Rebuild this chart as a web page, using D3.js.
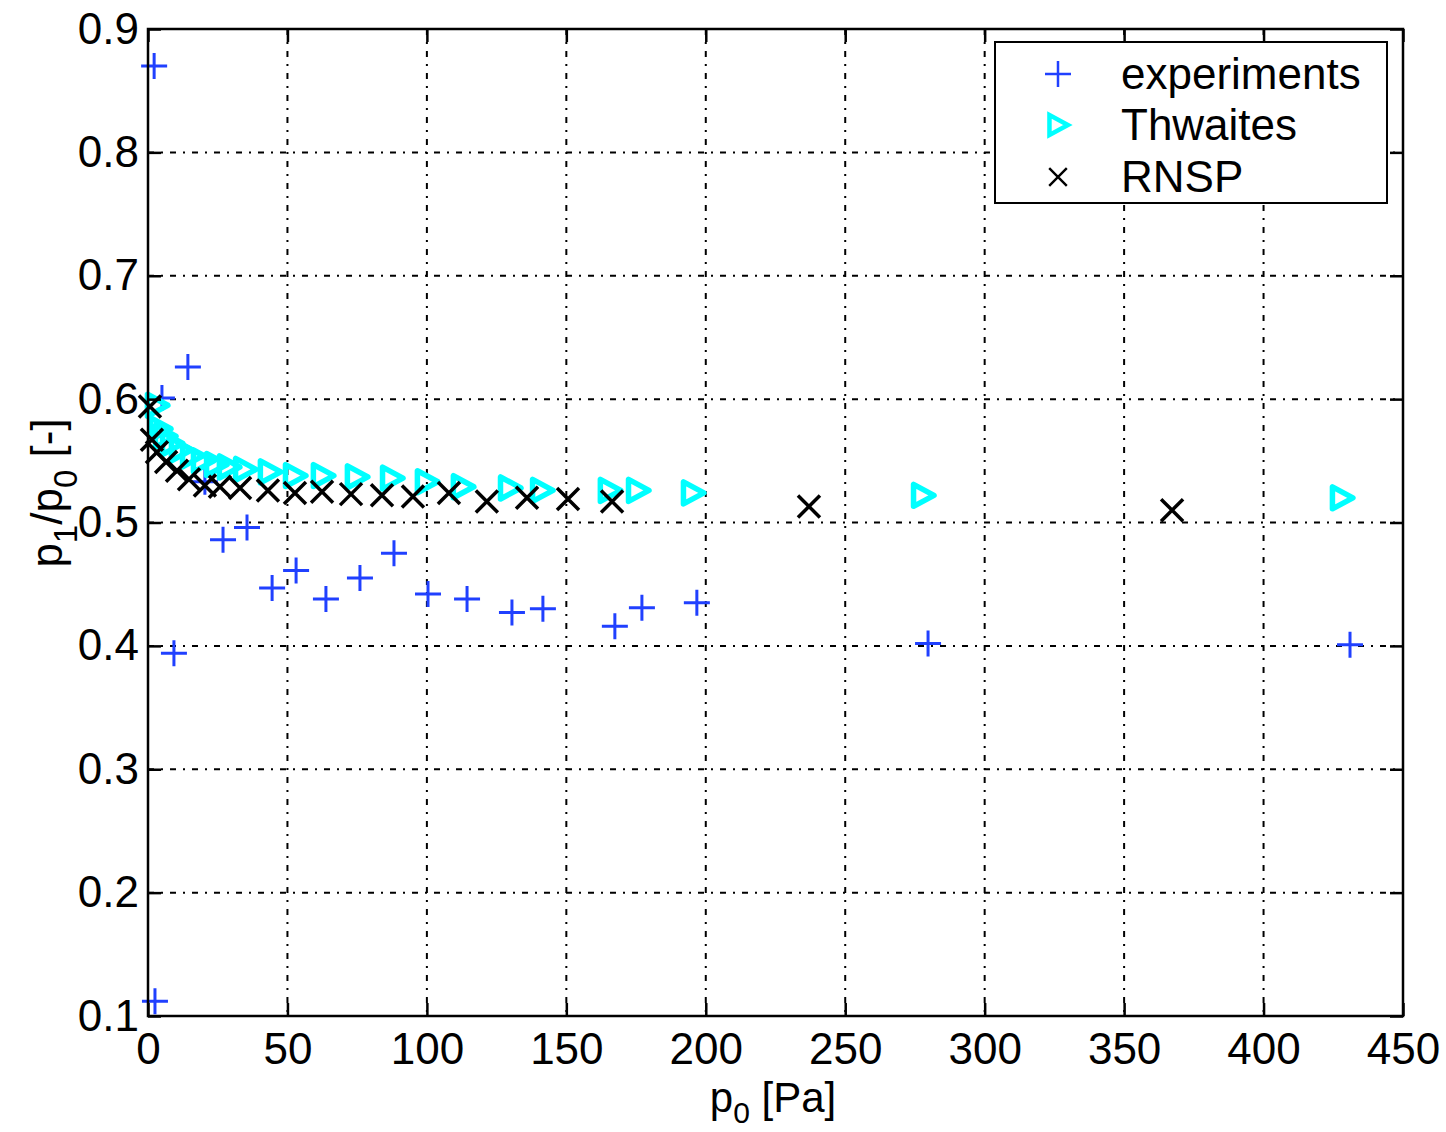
<!DOCTYPE html>
<html lang="en">
<head>
<meta charset="utf-8">
<title>p1/p0 vs p0</title>
<script src="https://d3js.org/d3.v7.min.js"></script>
<style>
  body { margin: 0; background: #fff; }
  text { font-family: "Liberation Sans", Arial, Helvetica, sans-serif; fill: #000; }
  .grid line { stroke: #000; stroke-width: 2; stroke-dasharray: 6,7,2,7; }
</style>
</head>
<body>
<script>
// data
const expX = [2.2, 2.5, 9.3, 14.3, 5.0, 20.4, 26.9, 35.5, 44.5, 53.1, 63.8, 76.0, 88.2, 100.4, 114.4, 130.5, 141.6, 167.4, 177.1, 196.8, 279.7, 431.0];
const expY = [0.870, 0.112, 0.394, 0.626, 0.601, 0.533, 0.486, 0.496, 0.447, 0.461, 0.438, 0.455, 0.475, 0.442, 0.438, 0.427, 0.430, 0.416, 0.431, 0.435, 0.402, 0.401];

const thwX = [3.2, 4.3, 6.1, 8.6, 11.8, 15.8, 19.7, 24.4, 29.0, 34.8, 43.7, 52.7, 62.7, 74.9, 87.5, 100.0, 112.9, 129.8, 141.3, 165.6, 175.7, 195.4, 277.9, 428.1];
const thwY = [0.595, 0.576, 0.570, 0.564, 0.559, 0.554, 0.550, 0.547, 0.545, 0.543, 0.541, 0.538, 0.538, 0.537, 0.536, 0.533, 0.529, 0.528, 0.526, 0.526, 0.526, 0.524, 0.522, 0.520];

const rnspX = [0.7, 1.4, 3.2, 6.5, 10.4, 14.7, 20.4, 25.8, 33.0, 43.0, 52.7, 62.4, 72.8, 83.9, 95.0, 107.9, 121.5, 135.9, 150.6, 166.4, 237.0, 367.2];
const rnspY = [0.594, 0.567, 0.557, 0.549, 0.542, 0.535, 0.530, 0.529, 0.528, 0.526, 0.524, 0.525, 0.523, 0.522, 0.521, 0.524, 0.517, 0.520, 0.519, 0.517, 0.513, 0.510];

const xTicks = [0, 50, 100, 150, 200, 250, 300, 350, 400, 450];
const yTicks = [0.1, 0.2, 0.3, 0.4, 0.5, 0.6, 0.7, 0.8, 0.9];
const legendNames = ["experiments", "Thwaites", "RNSP"];

const w = 1446, h = 1132;
const padL = 148, padR = 1403, padT = 29, padB = 1016;
const fs = 44;

const svg = d3.select("body").append("svg")
  .attr("width", w).attr("height", h);

const xScale = d3.scaleLinear().domain([0, 450]).range([padL, padR]);
const yScale = d3.scaleLinear().domain([0.1, 0.9]).range([padB, padT]);

// grid
const grid = svg.append("g").attr("class", "grid");
grid.selectAll(".gx").data(xTicks.slice(1, -1)).enter().append("line")
  .attr("x1", d => xScale(d)).attr("x2", d => xScale(d))
  .attr("y1", padT).attr("y2", padB);
grid.selectAll(".gy").data(yTicks.slice(1, -1)).enter().append("line")
  .attr("x1", padL).attr("x2", padR)
  .attr("y1", d => yScale(d)).attr("y2", d => yScale(d));

// markers
const plusPath = "M-13,0H13M0,-13V13";
const crossPath = "M-11,-11L11,11M-11,11L11,-11";
const triPath = "M-9.5,-11L-9.5,11L11,0Z";

const experiments = expX.map((x, i) => [x, expY[i]]);
const thwaites = thwX.map((x, i) => [x, thwY[i]]);
const rnsp = rnspX.map((x, i) => [x, rnspY[i]]);

svg.append("g").selectAll("path").data(experiments).enter().append("path")
  .attr("d", plusPath)
  .attr("transform", d => "translate(" + xScale(d[0]) + "," + yScale(d[1]) + ")")
  .attr("stroke", "#2040ff").attr("stroke-width", 3).attr("fill", "none");

svg.append("g").selectAll("path").data(thwaites).enter().append("path")
  .attr("d", triPath)
  .attr("transform", d => "translate(" + xScale(d[0]) + "," + yScale(d[1]) + ")")
  .attr("stroke", "#00ffff").attr("stroke-width", 5.5).attr("stroke-linejoin", "round")
  .attr("fill", "none");

svg.append("g").selectAll("path").data(rnsp).enter().append("path")
  .attr("d", crossPath)
  .attr("transform", d => "translate(" + xScale(d[0]) + "," + yScale(d[1]) + ")")
  .attr("stroke", "#000").attr("stroke-width", 3.5).attr("fill", "none");

// axes ticks (inward) on all four sides
const xAxisB = d3.axisBottom(xScale).tickValues(xTicks).tickSize(-13).tickSizeOuter(0).tickFormat(d3.format("d")).tickPadding(17);
const xAxisT = d3.axisTop(xScale).tickValues(xTicks).tickSize(-13).tickSizeOuter(0).tickFormat("");
const yAxisL = d3.axisLeft(yScale).tickValues(yTicks).tickSize(-13).tickSizeOuter(0).tickFormat(d3.format(".1f")).tickPadding(9);
const yAxisR = d3.axisRight(yScale).tickValues(yTicks).tickSize(-13).tickSizeOuter(0).tickFormat("");

function styleAxis(g) {
  g.select(".domain").remove();
  g.selectAll(".tick line").attr("stroke", "#000").attr("stroke-width", 2.5);
  g.selectAll(".tick text").attr("font-size", fs).attr("fill", "#000")
    .attr("font-family", "'Liberation Sans', Arial, sans-serif");
}

svg.append("g").attr("transform", "translate(0," + padB + ")").call(xAxisB).call(styleAxis);
svg.append("g").attr("transform", "translate(0," + padT + ")").call(xAxisT).call(styleAxis);
svg.append("g").attr("transform", "translate(" + padL + ",0)").call(yAxisL).call(styleAxis);
svg.append("g").attr("transform", "translate(" + padR + ",0)").call(yAxisR).call(styleAxis);

// box
svg.append("rect").attr("x", padL).attr("y", padT)
  .attr("width", padR - padL).attr("height", padB - padT)
  .attr("fill", "none").attr("stroke", "#000").attr("stroke-width", 2.5);

// axis labels
const xl = svg.append("text").attr("x", 773).attr("y", 1112)
  .attr("text-anchor", "middle").attr("font-size", 42);
xl.append("tspan").text("p");
xl.append("tspan").attr("font-size", 30).attr("dy", 11).text("0");
xl.append("tspan").attr("dy", -11).text(" [Pa]");

const yl = svg.append("text").attr("transform", "translate(62,493) rotate(-90)")
  .attr("text-anchor", "middle").attr("font-size", fs);
yl.append("tspan").text("p");
yl.append("tspan").attr("font-size", 33).attr("dy", 15).text("1");
yl.append("tspan").attr("dy", -15).text("/p");
yl.append("tspan").attr("font-size", 33).attr("dy", 15).text("0");
yl.append("tspan").attr("dy", -15).text(" [-]");

// legend
const legend = svg.append("g");
legend.append("rect").attr("x", 995).attr("y", 42).attr("width", 392).attr("height", 161)
  .attr("fill", "#fff").attr("stroke", "#000").attr("stroke-width", 2);
const legendRows = [74, 125, 177];
const legendPaths = [plusPath, triPath, crossPath];
const legendStroke = ["#2040ff", "#00ffff", "#000"];
const legendWidth = [2.5, 5, 3];
const legendScale = [1, 0.9, 0.8];
legendNames.forEach((name, i) => {
  legend.append("path").attr("d", legendPaths[i])
    .attr("transform", "translate(1058," + legendRows[i] + ") scale(" + legendScale[i] + ")")
    .attr("stroke", legendStroke[i]).attr("stroke-width", legendWidth[i]).attr("fill", "none");
  legend.append("text").attr("x", 1121).attr("y", legendRows[i] + 15)
    .attr("font-size", fs).text(name);
});
</script>
</body>
</html>
